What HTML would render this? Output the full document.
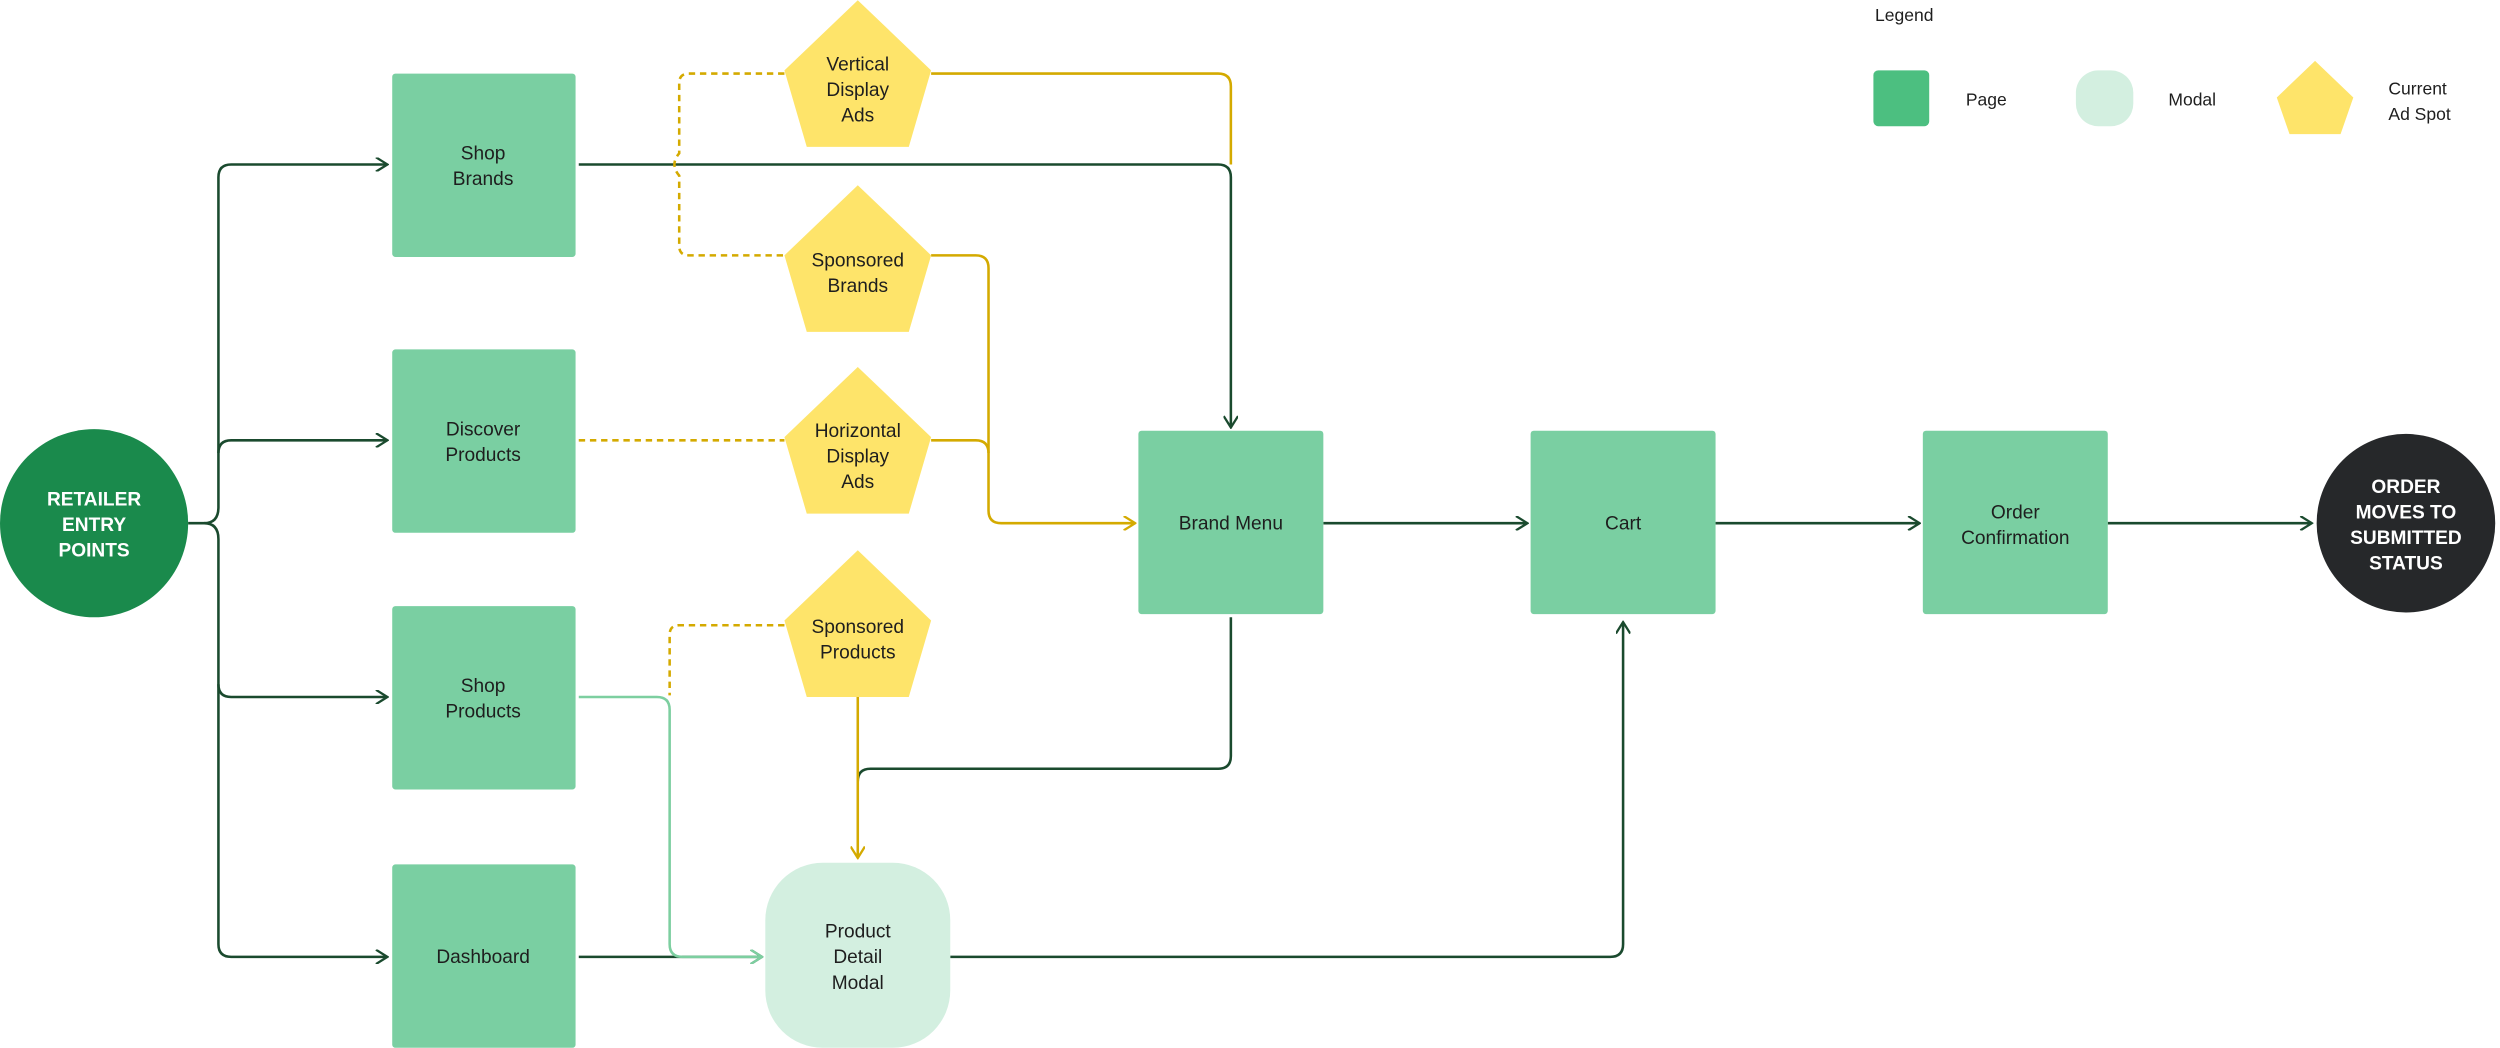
<!DOCTYPE html>
<html><head><meta charset="utf-8"><style>
html,body{margin:0;padding:0;background:#fff;}
svg{display:block;}
text{font-family:"Liberation Sans",sans-serif;font-size:12px;fill:#1e1e1e;text-anchor:middle;}
</style></head><body>
<svg width="2500" height="1048" viewBox="0 0 1568 657" xmlns="http://www.w3.org/2000/svg">
<defs>
<marker id="ag" viewBox="0 0 10 10" refX="9" refY="5" markerWidth="9" markerHeight="9" orient="auto" markerUnits="userSpaceOnUse"><path d="M1 0 L9 5 L1 10" fill="none" stroke="#1a4a2e" stroke-width="1.6"/></marker>
<marker id="ay" viewBox="0 0 10 10" refX="9" refY="5" markerWidth="9" markerHeight="9" orient="auto" markerUnits="userSpaceOnUse"><path d="M1 0 L9 5 L1 10" fill="none" stroke="#d4aa00" stroke-width="1.6"/></marker>
<marker id="al" viewBox="0 0 10 10" refX="9" refY="5" markerWidth="9" markerHeight="9" orient="auto" markerUnits="userSpaceOnUse"><path d="M1 0 L9 5 L1 10" fill="none" stroke="#7dcfa0" stroke-width="1.6"/></marker>
</defs>

<!-- dark green connectors -->
<g fill="none" stroke="#1a4a2e" stroke-width="1.6">
<path d="M118 328 H128 Q137 328 137 318 V111 Q137 103 145 103 H243" marker-end="url(#ag)"/>
<path d="M137 284 Q137 276 145 276 H243" marker-end="url(#ag)"/>
<path d="M128 328 Q137 328 137 338 V592 Q137 600 145 600 H243" marker-end="url(#ag)"/>
<path d="M137 429 Q137 437 145 437 H243" marker-end="url(#ag)"/>
<path d="M363 103 H764 Q772 103 772 111 V268" marker-end="url(#ag)"/>
<path d="M830 328 H958" marker-end="url(#ag)"/>
<path d="M1076 328 H1204" marker-end="url(#ag)"/>
<path d="M1322 328 H1450" marker-end="url(#ag)"/>
<path d="M772 387 V474 Q772 482 764 482 H546 Q538 482 538 490"/>
<path d="M596 600 H1010 Q1018 600 1018 592 V390" marker-end="url(#ag)"/>
<path d="M363 600 H478" marker-end="url(#ag)"/>
</g>
<path d="M363 437 H412 Q420 437 420 445 V592 Q420 600 428 600 H478" fill="none" stroke="#7dcfa0" stroke-width="1.6" marker-end="url(#al)"/>

<!-- yellow connectors -->
<g fill="none" stroke="#d4aa00" stroke-width="1.6">
<path d="M584 46 H764 Q772 46 772 54 V103"/>
<path d="M584 160 H612 Q620 160 620 168 V320 Q620 328 628 328 H712" marker-end="url(#ay)"/>
<path d="M584 276 H612 Q620 276 620 284"/>
<path d="M538 437 V538" marker-end="url(#ay)"/>
</g>
<g fill="none" stroke="#d4aa00" stroke-width="1.6" stroke-dasharray="4 3">
<path d="M492 46 H432 Q426 46 426 52 V96 Q420 103 426 110 V154 Q426 160 432 160 H492"/>
<path d="M363 276 H492"/>
<path d="M492 392 H426 Q420 392 420 398 V436"/>
</g>

<!-- entry circle -->
<circle cx="59" cy="328" r="59" fill="#1a8a4c"/>
<text x="59" y="317" style="fill:#fff;font-weight:bold">RETAILER</text>
<text x="59" y="333" style="fill:#fff;font-weight:bold">ENTRY</text>
<text x="59" y="349" style="fill:#fff;font-weight:bold">POINTS</text>

<!-- pages -->
<g fill="#7acfa2">
<rect x="246" y="46" width="115" height="115" rx="2"/>
<rect x="246" y="219" width="115" height="115" rx="2"/>
<rect x="246" y="380" width="115" height="115" rx="2"/>
<rect x="246" y="542" width="115" height="115" rx="2"/>
<rect x="714" y="270" width="116" height="115" rx="2"/>
<rect x="960" y="270" width="116" height="115" rx="2"/>
<rect x="1206" y="270" width="116" height="115" rx="2"/>
</g>
<text x="303" y="100">Shop</text><text x="303" y="116">Brands</text>
<text x="303" y="273">Discover</text><text x="303" y="289">Products</text>
<text x="303" y="434">Shop</text><text x="303" y="450">Products</text>
<text x="303" y="604">Dashboard</text>
<text x="772" y="332">Brand Menu</text>
<text x="1018" y="332">Cart</text>
<text x="1264" y="325">Order</text><text x="1264" y="341">Confirmation</text>

<rect x="480" y="541" width="116" height="116" rx="36" fill="#d3efe0"/>
<text x="538" y="588">Product</text><text x="538" y="604">Detail</text><text x="538" y="620">Modal</text>

<circle cx="1509" cy="328" r="56" fill="#26282a"/>
<text x="1509" y="309" style="fill:#fff;font-weight:bold">ORDER</text>
<text x="1509" y="325" style="fill:#fff;font-weight:bold">MOVES TO</text>
<text x="1509" y="341" style="fill:#fff;font-weight:bold">SUBMITTED</text>
<text x="1509" y="357" style="fill:#fff;font-weight:bold">STATUS</text>

<!-- pentagons -->
<g fill="#fee46a">
<path d="M538 0 L584 44 L570 92 L506 92 L492 44 Z"/>
<path d="M538 116 L584 160 L570 208 L506 208 L492 160 Z"/>
<path d="M538 230 L584 274 L570 322 L506 322 L492 274 Z"/>
<path d="M538 345 L584 389 L570 437 L506 437 L492 389 Z"/>
<path d="M1452 38 L1476 61 L1468 84 L1436 84 L1428 61 Z"/>
</g>
<text x="538" y="44">Vertical</text><text x="538" y="60">Display</text><text x="538" y="76">Ads</text>
<text x="538" y="167">Sponsored</text><text x="538" y="183">Brands</text>
<text x="538" y="274">Horizontal</text><text x="538" y="290">Display</text><text x="538" y="306">Ads</text>
<text x="538" y="397">Sponsored</text><text x="538" y="413">Products</text>

<!-- legend -->
<text x="1176" y="13" style="text-anchor:start;font-size:11px">Legend</text>
<rect x="1175" y="44" width="35" height="35" rx="3" fill="#4cbf80"/>
<rect x="1302" y="44" width="36" height="35" rx="14" fill="#d3efe0"/>
<text x="1233" y="66" style="text-anchor:start;font-size:11px">Page</text>
<text x="1360" y="66" style="text-anchor:start;font-size:11px">Modal</text>
<text x="1498" y="59" style="text-anchor:start;font-size:11px">Current</text>
<text x="1498" y="75" style="text-anchor:start;font-size:11px">Ad Spot</text>
</svg>
</body></html>
